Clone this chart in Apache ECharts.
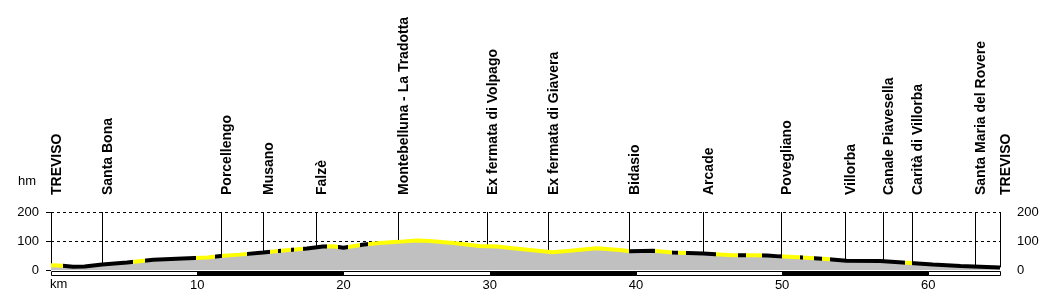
<!DOCTYPE html>
<html>
<head>
<meta charset="utf-8">
<script src="https://cdn.jsdelivr.net/npm/echarts@6/dist/echarts.min.js"></script>
<style>
html,body{margin:0;padding:0;background:#fff;}
#chart{width:1050px;height:296px;}
</style>
</head>
<body>
<div id="chart"></div>
<script>
// Elevation profile (km, metres)
const profileKm = [0, 0.8, 1.5, 2.3, 3.5, 5.2, 7, 9, 10.7, 11.6, 12.9, 14.5, 16.1, 17.5, 18.6, 19.3, 20, 21.4, 22.5, 23.7, 25, 25.9, 27.5, 29.3, 30.5, 31.6, 32.6, 34.3, 35.5, 37.3, 38.9, 39.6, 41.2, 42.5, 44.6, 46.6, 48, 49, 49.8, 51.4, 53, 54.4, 56.7, 58.5, 60.3, 62.2, 64.9];
const profileElev = [16, 15, 11, 12, 19, 26, 35, 40, 43, 48, 53, 60, 68, 74, 81, 82, 77, 88, 93, 97, 102, 100, 93, 83, 81, 75, 70, 61, 66, 75, 69, 65, 66, 60, 57, 51, 51, 50, 47, 43, 38, 32, 31, 25, 19, 14, 9];

// Segments of the route drawn in yellow (km ranges)
const yellowSegments = [[0, 0.8], [5.6, 6.4], [9.9, 11.2], [11.7, 13.4], [15.0, 15.5], [15.7, 16.4], [16.6, 17.2], [18.9, 19.6], [20.3, 21.1], [21.7, 39.5], [41.3, 42.5], [42.9, 43.4], [45.5, 47.0], [47.5, 48.6], [50.0, 51.2], [51.4, 52.2], [52.7, 53.3], [58.4, 58.9]];

// Named places along the route
const placeNames = ['TREVISO', 'Santa Bona', 'Porcellengo', 'Musano', 'Falzè', 'Montebelluna - La Tradotta', 'Ex fermata di Volpago', 'Ex fermata di Giavera', 'Bidasio', 'Arcade', 'Povegliano', 'Villorba', 'Canale Piavesella', 'Carità di Villorba', 'Santa Maria del Rovere', 'TREVISO'];
const placeKm = [0, 3.5, 11.6, 14.5, 18.1, 23.7, 29.8, 34.0, 39.5, 44.6, 49.9, 54.3, 56.9, 58.9, 63.2, 64.9];
const placeElev = [16, 19, 48, 60, 79, 97, 82, 62, 65, 57, 49, 33, 31, 24, 12, 9];

// Distance scale bar bands (km start, km end, filled?)
const scaleBandStart = [0, 10, 20, 30, 40, 50, 60];
const scaleBandEnd = [10, 20, 30, 40, 50, 60, 64.9];
const scaleBandFilled = [0, 1, 0, 1, 0, 1, 0];

const xTicks = [10, 20, 30, 40, 50, 60];
const yTicks = [0, 100, 200];
const totalKm = 64.9;

const FONT = 'Liberation Sans, Arial, sans-serif';

const chart = echarts.init(document.getElementById('chart'), null, {renderer: 'canvas'});

const profileData = profileKm.map((k, i) => [k, profileElev[i]]);
const placeData = placeKm.map((k, i) => [k, placeElev[i]]);
const bandData = scaleBandStart.map((s, i) => [s, scaleBandEnd[i], scaleBandFilled[i]]);

chart.setOption({
  animation: false,
  backgroundColor: '#fff',
  grid: {left: 51, right: 50, top: 212, bottom: 26, containLabel: false},
  xAxis: {
    type: 'value', min: 0, max: totalKm, interval: 10,
    axisLine: {show: false}, axisTick: {show: false}, splitLine: {show: false},
    axisLabel: {
      margin: 9, color: '#000', fontFamily: FONT, fontSize: 13,
      formatter: v => (xTicks.indexOf(v) >= 0 ? String(v) : ''),
      showMaxLabel: false
    }
  },
  yAxis: [{
    type: 'value', min: 0, max: 200, interval: 100,
    axisLine: {show: false},
    axisTick: {show: true, length: 5, lineStyle: {color: '#000'}},
    axisLabel: {margin: 12, color: '#000', fontFamily: FONT, fontSize: 13,
      formatter: v => (yTicks.indexOf(v) >= 0 ? String(v) : '')},
    splitLine: {show: true, lineStyle: {color: ['rgba(0,0,0,0)', '#000', '#000'], type: [3, 3], width: 1}}
  }, {
    type: 'value', min: 0, max: 200, interval: 100, position: 'right',
    axisLine: {show: false}, axisTick: {show: false}, splitLine: {show: false},
    axisLabel: {margin: 17, color: '#000', fontFamily: FONT, fontSize: 13,
      formatter: v => (yTicks.indexOf(v) >= 0 ? String(v) : '')}
  }],
  visualMap: {
    show: false, type: 'piecewise', seriesIndex: 1, dimension: 0,
    pieces: yellowSegments.map(s => ({gte: s[0], lt: s[1], color: '#ffff00'})),
    outOfRange: {color: '#000'}
  },
  graphic: [
    {type: 'text', left: 18, top: 175, style: {text: 'hm', font: '13px ' + FONT, fill: '#000'}},
    {type: 'text', left: 50, top: 278, style: {text: 'km', font: '13px ' + FONT, fill: '#000'}}
  ],
  series: [{
    type: 'custom', name: 'places', z: 1, clip: false,
    data: placeData,
    renderItem: function (params, api) {
      const km = api.value(0), elev = api.value(1);
      const top = api.coord([km, 200]);
      const bot = api.coord([km, elev]);
      const x = Math.round(top[0]) + 0.5;
      return {
        type: 'group',
        children: [{
          type: 'line',
          shape: {x1: x, y1: top[1], x2: x, y2: bot[1]},
          style: {stroke: '#000', lineWidth: 1}
        }, {
          type: 'text', x: x + 6, y: top[1] - 17, rotation: Math.PI / 2,
          style: {text: placeNames[params.dataIndex], font: 'bold 14px ' + FONT, fill: '#000', align: 'left', verticalAlign: 'middle'}
        }]
      };
    }
  }, {
    type: 'line', name: 'profile', z: 3,
    data: profileData,
    showSymbol: false, symbol: 'none',
    lineStyle: {width: 4},
    areaStyle: {color: '#c0c0c0', opacity: 1, origin: 'start'}
  }, {
    type: 'custom', name: 'scale', z: 4, clip: false,
    data: bandData,
    renderItem: function (params, api) {
      const p0 = api.coord([api.value(0), 0]);
      const p1 = api.coord([api.value(1), 0]);
      const filled = api.value(2) === 1;
      return {
        type: 'rect',
        shape: {x: Math.round(p0[0]) + 0.5, y: Math.round(p0[1]) + 1.5, width: Math.round(p1[0]) - Math.round(p0[0]), height: 4},
        style: {fill: filled ? '#000' : '#fff', stroke: '#000', lineWidth: 1}
      };
    }
  }]
});
</script>
</body>
</html>
